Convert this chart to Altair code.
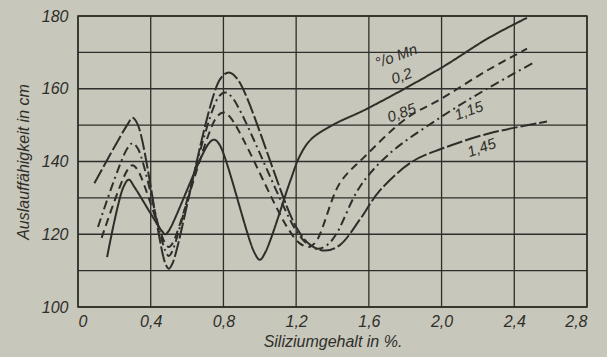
import altair as alt
import pandas as pd

# Curve data (x = Siliziumgehalt %, y = Auslauffähigkeit cm)
mn_02_x = [0.16, 0.25, 0.28, 0.31, 0.46, 0.48, 0.50, 0.72, 0.75, 0.78, 0.97, 1.00, 1.03, 1.17, 1.22, 1.28, 1.40, 1.59, 1.99, 2.26, 2.47]
mn_02_y = [113.7, 133, 135, 133, 121, 120, 121, 145, 146, 144.5, 115, 113, 115, 135, 141.5, 146, 150, 154.5, 165.5, 174, 179.5]

mn_085_x = [0.13, 0.27, 0.30, 0.33, 0.48, 0.50, 0.52, 0.76, 0.80, 0.84, 1.15, 1.22, 1.27, 1.31, 1.44, 1.57, 1.81, 1.99, 2.25, 2.47]
mn_085_y = [119, 137.5, 139, 137.5, 117.5, 116.5, 117.5, 152, 153.5, 152, 122, 117.5, 116.5, 118, 134, 141, 152, 157, 165, 171]

mn_115_x = [0.11, 0.27, 0.30, 0.33, 0.48, 0.50, 0.52, 0.77, 0.81, 0.85, 1.20, 1.27, 1.32, 1.37, 1.42, 1.55, 1.71, 1.99, 2.25, 2.50]
mn_115_y = [122, 143.5, 145, 143.5, 115.5, 114, 115.5, 157.5, 159, 157.5, 121, 117, 116, 117, 120, 133, 142, 152, 160, 167]

mn_145_x = [0.09, 0.27, 0.30, 0.33, 0.48, 0.50, 0.52, 0.78, 0.83, 0.88, 1.20, 1.28, 1.36, 1.44, 1.55, 1.66, 1.84, 2.00, 2.26, 2.58]
mn_145_y = [134, 150, 152, 150, 112, 110.5, 112, 162.5, 164.5, 162.5, 122, 117, 115.5, 117, 124, 132, 140, 143.5, 147.7, 151]

series_names = ["0,2", "0,85", "1,15", "1,45"]

frames = []
for name, xs, ys in [
    ("0,2", mn_02_x, mn_02_y),
    ("0,85", mn_085_x, mn_085_y),
    ("1,15", mn_115_x, mn_115_y),
    ("1,45", mn_145_x, mn_145_y),
]:
    frames.append(pd.DataFrame({"si": xs, "len": ys, "mn": name}))
df = pd.concat(frames, ignore_index=True)

# Annotations
ann_text = ["°/o Mn", "0,2", "0,85", "1,15", "1,45"]
ann_x = [1.75, 1.78, 1.78, 2.15, 2.22]
ann_y = [169, 163.5, 153.4, 154, 143.8]
ann_df = pd.DataFrame({"t": ann_text, "x": ann_x, "y": ann_y})

x_ticks = [0, 0.4, 0.8, 1.2, 1.6, 2.0, 2.4, 2.8]
y_ticks = [100, 110, 120, 130, 140, 150, 160, 170, 180]
y_label_ticks = [100, 120, 140, 160, 180]

ink = "#2e2e2a"
bg = "#c8c7bb"
font = "Liberation Sans"

xscale = alt.Scale(domain=[0, 2.8], nice=False, zero=False)
yscale = alt.Scale(domain=[100, 180], nice=False, zero=False)

xaxis = alt.Axis(
    values=x_ticks,
    labelExpr="datum.value == 0 ? '0' : replace(format(datum.value, '.1f'), '.', ',')",
    title="Siliziumgehalt in %.",
    grid=False, domain=False, ticks=False,
    labelFont=font, labelFontStyle="italic", labelFontSize=16, labelColor=ink,
    labelPadding=6,
    titleFont=font, titleFontStyle="italic", titleFontSize=16, titleColor=ink,
    titleFontWeight="normal", titlePadding=4,
)
yaxis = alt.Axis(
    values=y_label_ticks,
    title="Auslauffähigkeit in cm",
    grid=False, domain=False, ticks=False,
    labelFont=font, labelFontStyle="italic", labelFontSize=16, labelColor=ink,
    labelPadding=10,
    titleFont=font, titleFontStyle="italic", titleFontSize=16, titleColor=ink,
    titleFontWeight="normal", titlePadding=10,
)

vgrid = alt.Chart(pd.DataFrame({"v": x_ticks})).mark_rule(
    color=ink, strokeWidth=1.3
).encode(x=alt.X("v:Q", scale=xscale, axis=xaxis))

hgrid = alt.Chart(pd.DataFrame({"h": y_ticks})).mark_rule(
    color=ink, strokeWidth=1.3
).encode(y=alt.Y("h:Q", scale=yscale, axis=yaxis))

lines = alt.Chart(df).mark_line(
    interpolate="catmull-rom", color=ink, strokeWidth=2, clip=True
).encode(
    x=alt.X("si:Q", scale=xscale),
    y=alt.Y("len:Q", scale=yscale),
    detail="mn:N",
    order="si:Q",
    strokeDash=alt.StrokeDash(
        "mn:N",
        scale=alt.Scale(domain=series_names, range=[[1, 0], [8, 5], [9, 4, 2, 4], [16, 3]]),
        legend=None,
    ),
)

labels = alt.Chart(ann_df).mark_text(
    font=font, fontStyle="italic", fontSize=15, color=ink, angle=340
).encode(
    x=alt.X("x:Q", scale=xscale),
    y=alt.Y("y:Q", scale=yscale),
    text="t:N",
)

chart = alt.layer(vgrid, hgrid, lines, labels).properties(
    width=509, height=291,
    autosize=alt.AutoSizeParams(type="none"),
    padding={"left": 78, "top": 16, "right": 20, "bottom": 50},
    background=bg,
).configure_view(stroke=ink, strokeWidth=1.5)

chart.save("out.html", embed_options={"renderer": "svg", "actions": False})
